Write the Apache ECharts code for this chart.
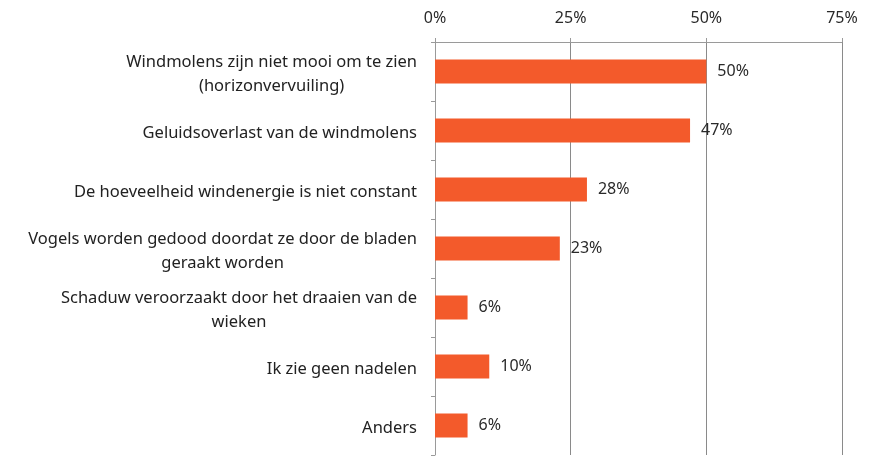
<!DOCTYPE html>
<html>
<head>
<meta charset="utf-8">
<script src="https://cdn.jsdelivr.net/npm/echarts@6/dist/echarts.min.js"></script>
<style>html,body{margin:0;padding:0;background:#fff;}#c{width:869px;height:456px;}</style>
</head>
<body>
<div id="c"></div>
<script>
const categories = [
  "Windmolens zijn niet mooi om te zien\n(horizonvervuiling)",
  "Geluidsoverlast van de windmolens",
  "De hoeveelheid windenergie is niet constant",
  "Vogels worden gedood doordat ze door de bladen\ngeraakt worden",
  "Schaduw veroorzaakt door het draaien van de\nwieken",
  "Ik zie geen nadelen",
  "Anders"
];
const values = [50, 47, 28, 23, 6, 10, 6];
const valueLabels = ["50%", "47%", "28%", "23%", "6%", "10%", "6%"];
const tickLabels = ["0%", "25%", "50%", "75%"];

const chart = echarts.init(document.getElementById('c'), null, {renderer: 'canvas'});
const font = "'Noto Sans', 'DejaVu Sans', sans-serif";
chart.setOption({
  animation: false,
  grid: {left: 435, right: 27, top: 42, bottom: 1, containLabel: false},
  xAxis: {
    type: 'value', position: 'top', min: 0, max: 75, interval: 25,
    axisLine: {show: true, lineStyle: {color: '#9a9a9a', width: 1}},
    axisTick: {show: true, length: 4, lineStyle: {color: '#9a9a9a'}},
    splitLine: {show: true, lineStyle: {color: '#8a8a8a', width: 1}},
    axisLabel: {
      margin: 16, color: '#2a2a2a', fontSize: 16, fontFamily: font,
      formatter: function (v) { return tickLabels[Math.round(v / 25)]; }
    }
  },
  yAxis: {
    type: 'category', data: categories, inverse: true,
    axisLine: {show: true, lineStyle: {color: '#9a9a9a', width: 1}},
    axisTick: {show: true, length: 4, lineStyle: {color: '#9a9a9a'}},
    axisLabel: {
      margin: 18, color: '#222', fontSize: 16.5, fontFamily: font,
      padding: [6, 0, 0, 0],
      formatter: function (v) {
        return v.split('\n').map(function (l) { return '{c|' + l + '}'; }).join('\n');
      },
      rich: {c: {align: 'center', fontSize: 16.5, fontFamily: font, color: '#222', lineHeight: 24}}
    }
  },
  series: [{
    type: 'bar', data: values, barWidth: 24,
    itemStyle: {color: '#f35a2b'},
    label: {
      show: true, position: 'right', distance: 11, color: '#2a2a2a',
      fontSize: 16, fontFamily: font,
      formatter: function (p) { return valueLabels[p.dataIndex]; }
    }
  }]
});
</script>
</body>
</html>
